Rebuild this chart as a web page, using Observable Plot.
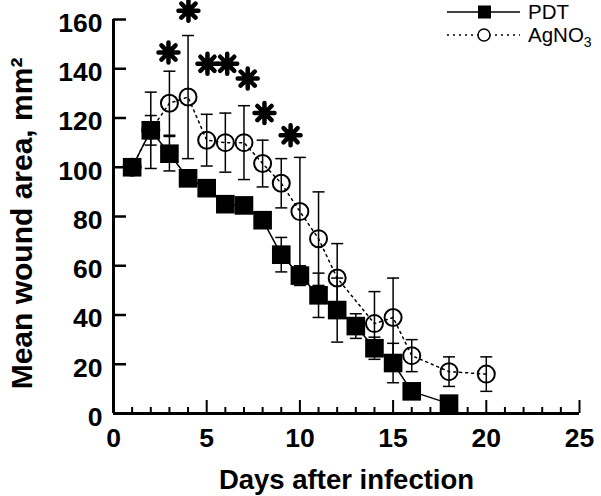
<!DOCTYPE html>
<html><head><meta charset="utf-8">
<script src="https://cdn.jsdelivr.net/npm/d3@7"></script>
<script src="https://cdn.jsdelivr.net/npm/@observablehq/plot@0.6"></script>
<style>
body{margin:0;background:#fff;}
#chart{position:relative;width:601px;height:496px;font-family:"Liberation Sans",Arial,sans-serif;}
#legend{position:absolute;left:0;top:0;}
</style></head><body><div id="chart"></div>
<script>
// PDT series (filled squares, solid line)
const pdtDays = [1, 2, 3, 4, 5, 6, 7, 8, 9, 10, 11, 12, 13, 14, 15, 16, 18];
const pdtMean = [100, 115, 105.5, 95.5, 91.5, 85, 84.5, 78.5, 64.5, 56, 48, 42, 35.5, 26.5, 20.5, 9, 4];
const pdtErr  = [0, 6, 7, 3, 3, 3, 3, 3, 7, 4, 9, 13, 5, 4.5, 8, 3, 2];
// AgNO3 series (open circles, dotted line)
const agDays = [1, 2, 3, 4, 5, 6, 7, 8, 9, 10, 11, 12, 14, 15, 16, 18, 20];
const agMean = [100, 115, 126, 128.5, 111, 110, 110, 101.5, 93.5, 82, 71, 55, 36.5, 39, 23.5, 17, 16];
const agErr  = [0, 15.5, 13, 25, 10.5, 12, 15, 9.5, 10, 22, 19, 14, 13, 16, 6.5, 6, 7];
// significance asterisks
const starDays = [2.95, 4.02, 5.04, 6.1, 7.2, 8.1, 9.5];
const starVals = [146.6, 163.6, 142, 142, 136, 122, 113];
// ticks
const xMajorTicks = [0, 5, 10, 15, 20, 25];
const xMinorTicks = [1, 2, 3, 4, 6, 7, 8, 9, 11, 12, 13, 14, 16, 17, 18, 19, 21, 22, 23, 24];
const yTicks = [0, 20, 40, 60, 80, 100, 120, 140, 160];
const xTitle = "Days after infection";
const yTitle = "Mean wound area, mm\u00b2";
const legendMain = ["PDT", "AgNO"];
const legendSub = ["", "3"];

const W = 601, H = 496, mL = 113, mR = 22, mT = 19, mB = 83;
const innerW = W - mL - mR, innerH = H - mT - mB;

const pdt = pdtDays.map((d, i) => ({day: d, mean: pdtMean[i], err: pdtErr[i]}));
const ag = agDays.map((d, i) => ({day: d, mean: agMean[i], err: agErr[i]}));
const stars = starDays.map((d, i) => ({day: d, v: starVals[i]}));

const asterisk = {draw(ctx, size) {
  const r = Math.sqrt(size / Math.PI);
  for (let k = 0; k < 4; k++) {
    const a = k * Math.PI / 4;
    ctx.moveTo(r * Math.cos(a), r * Math.sin(a));
    ctx.lineTo(-r * Math.cos(a), -r * Math.sin(a));
  }
}};
const cap = {draw(ctx, size) {
  const r = Math.sqrt(size / Math.PI);
  ctx.moveTo(-r, 0); ctx.lineTo(r, 0);
}};

const font = '"Liberation Sans", Arial, sans-serif';
const chart = Plot.plot({
  width: W, height: H,
  marginLeft: mL, marginRight: mR, marginTop: mT, marginBottom: mB,
  style: {fontFamily: font, fontWeight: "bold", color: "black", background: "white"},
  x: {domain: [0, 25], label: null},
  y: {domain: [0, 160], label: null},
  marks: [
    Plot.axisX(xMajorTicks, {tickSize: 0, tickPadding: 15, fontSize: 26.5, fontWeight: "bold", label: null}),
    Plot.axisY(yTicks, {tickSize: 0, tickPadding: 11, fontSize: 26.5, fontWeight: "bold", dy: 4, label: null}),
    Plot.tickY(yTicks, {y: d => d, insetRight: innerW - 13, strokeWidth: 2.5, stroke: "black"}),
    Plot.tickX(xMajorTicks, {x: d => d, insetTop: innerH - 13, strokeWidth: 2, stroke: "black"}),
    Plot.tickX(xMinorTicks, {x: d => d, insetTop: innerH - 6, strokeWidth: 2, stroke: "black"}),
    Plot.ruleX([0], {strokeWidth: 3, stroke: "black"}),
    Plot.ruleY([0], {strokeWidth: 3, stroke: "black"}),
    // error bars
    Plot.ruleX(ag, {x: "day", y1: d => d.mean - d.err, y2: d => d.mean + d.err, strokeWidth: 1.5, stroke: "black"}),
    Plot.dot(ag, {x: "day", y: d => d.mean + d.err, symbol: cap, r: 6, stroke: "black", strokeWidth: 1.5, fill: "none"}),
    Plot.dot(ag, {x: "day", y: d => d.mean - d.err, symbol: cap, r: 6, stroke: "black", strokeWidth: 1.5, fill: "none"}),
    Plot.ruleX(pdt, {x: "day", y1: d => d.mean - d.err, y2: d => d.mean + d.err, strokeWidth: 1.5, stroke: "black"}),
    Plot.dot(pdt, {x: "day", y: d => d.mean + d.err, symbol: cap, r: 6, stroke: "black", strokeWidth: 1.5, fill: "none"}),
    Plot.dot(pdt, {x: "day", y: d => d.mean - d.err, symbol: cap, r: 6, stroke: "black", strokeWidth: 1.5, fill: "none"}),
    // lines
    Plot.line(ag, {x: "day", y: "mean", stroke: "black", strokeWidth: 1.5, strokeDasharray: "2,4"}),
    Plot.line(pdt, {x: "day", y: "mean", stroke: "black", strokeWidth: 1.5}),
    // markers
    Plot.dot(ag, {x: "day", y: "mean", r: 8.5, stroke: "black", strokeWidth: 2, fill: "none"}),
    Plot.dot(pdt, {x: "day", y: "mean", symbol: "square", r: 10.5, fill: "black", stroke: "none"}),
    // asterisks
    Plot.dot(stars, {x: "day", y: "v", symbol: asterisk, r: 10, stroke: "black", strokeWidth: 4.5, strokeLinecap: "round", fill: "none"}),
    // titles
    Plot.text([xTitle], {text: d => d, frameAnchor: "bottom", lineAnchor: "bottom", dy: 75, fontSize: 27.5, fontWeight: "bold", fill: "black"}),
    Plot.text([yTitle], {text: d => d, frameAnchor: "left", rotate: -90, lineAnchor: "bottom", textAnchor: "middle", dx: -82, dy: 7, fontSize: 30, fontWeight: "bold", fill: "black"})
  ]
});
const container = document.getElementById("chart");
container.appendChild(chart);

// legend
const leg = d3.select(container).append("svg").attr("id", "legend")
  .attr("width", W).attr("height", 60).style("pointer-events", "none");
const rowY = [12, 35];
legendMain.forEach((name, i) => {
  const g = leg.append("g").attr("transform", `translate(0,${rowY[i]})`);
  g.append("line").attr("x1", 447).attr("x2", 520).attr("y1", 0).attr("y2", 0)
    .attr("stroke", "black").attr("stroke-width", 1.5)
    .attr("stroke-dasharray", i === 0 ? null : "2,4");
  if (i === 0) g.append("rect").attr("x", 478).attr("y", -6.5).attr("width", 13).attr("height", 13).attr("fill", "black");
  else g.append("circle").attr("cx", 484).attr("cy", 0).attr("r", 6).attr("fill", "white").attr("stroke", "black").attr("stroke-width", 1.5);
  const t = g.append("text").attr("x", 528).attr("y", 7).attr("font-family", font).attr("font-size", 20.5).attr("fill", "black").text(name);
  if (legendSub[i]) t.append("tspan").attr("dy", 5).attr("font-size", 14).text(legendSub[i]);
});
</script></body></html>
